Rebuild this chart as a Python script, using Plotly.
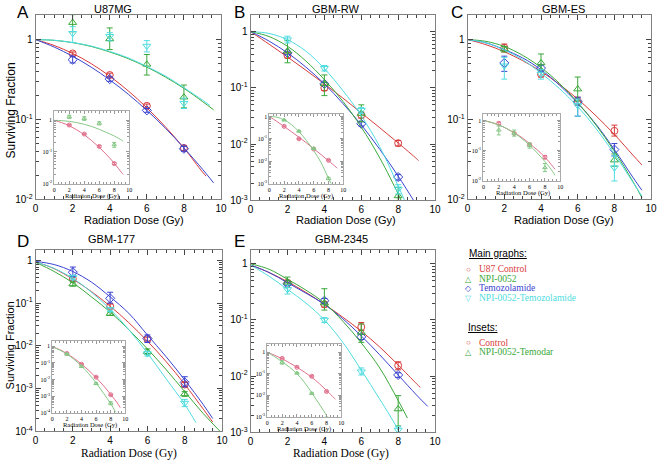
import numpy as np
import plotly.graph_objects as go

W, H = 664, 465
SANS = "Liberation Sans, Arial, sans-serif"
SERIF = "Liberation Serif, Times New Roman, serif"
RED, GREEN, BLUE, CYAN = "#d83c3c", "#3aa83a", "#3a44d0", "#50dce0"
PINK, LGREEN = "#e0708c", "#86c886"

DOSE = [2, 4, 6, 8]

# ---- A: U87MG ----
A_RED = [0.67, 0.36, 0.148, 0.044]
A_RED_HI = [0.70, 0.38, 0.156, 0.047]
A_RED_LO = [0.64, 0.34, 0.140, 0.041]
A_GREEN = [1.63, 1.02, 0.49, 0.19]
A_GREEN_HI = [2.05, 1.40, 0.65, 0.27]
A_GREEN_LO = [1.25, 0.75, 0.36, 0.14]
A_BLUE = [0.56, 0.32, 0.13, 0.043]
A_BLUE_HI = [0.61, 0.34, 0.137, 0.046]
A_BLUE_LO = [0.51, 0.30, 0.123, 0.040]
A_CYAN = [1.2, 1.1, 0.83, 0.16]
A_CYAN_HI = [1.45, 1.22, 0.97, 0.185]
A_CYAN_LO = [0.92, 0.96, 0.70, 0.137]
A_RED_FX = [0, 1, 2, 3, 4, 5, 6, 7, 8, 9, 9.2]
A_RED_FY = [1, 0.845, 0.67, 0.50, 0.348, 0.228, 0.140, 0.081, 0.044, 0.022, 0.0195]
A_BLUE_FX = [0, 1, 2, 3, 4, 5, 6, 7, 8, 9, 9.6]
A_BLUE_FY = [1, 0.807, 0.619, 0.452, 0.313, 0.207, 0.130, 0.078, 0.044, 0.0239, 0.0161]
A_GREEN_FX = [0, 1, 2, 3, 4, 5, 6, 7, 8, 9, 9.6]
A_GREEN_FY = [1, 0.978, 0.916, 0.82, 0.70, 0.577, 0.453, 0.34, 0.245, 0.168, 0.132]
A_CYAN_FX = [0, 1, 2, 3, 4, 5, 6, 7, 8, 9, 9.4]
A_CYAN_FY = [1, 0.98, 0.92, 0.83, 0.71, 0.59, 0.46, 0.35, 0.25, 0.175, 0.15]
IA_CTRL = [0.71, 0.37, 0.15, 0.043]
IA_CTRL_HI = [0.75, 0.39, 0.16, 0.046]
IA_CTRL_LO = [0.67, 0.35, 0.14, 0.040]
IA_NPI = [1.3, 1.15, 0.81, 0.17]
IA_NPI_HI = [1.45, 1.3, 0.9, 0.2]
IA_NPI_LO = [1.15, 1.0, 0.72, 0.14]
IA_NPI_FX = [0, 1, 2, 3, 4, 5, 6, 7, 8, 9, 9.2]
IA_NPI_FY = [1, 0.98, 0.93, 0.85, 0.75, 0.64, 0.52, 0.41, 0.32, 0.235, 0.22]

# ---- B: GBM-RW ----
B_RED = [0.38, 0.10, 0.033, 0.0104]
B_RED_HI = [0.42, 0.11, 0.037, 0.0116]
B_RED_LO = [0.34, 0.09, 0.029, 0.0093]
B_GREEN = [0.45, 0.118, 0.035, 0.0012]
B_GREEN_HI = [0.70, 0.17, 0.05, 0.0017]
B_GREEN_LO = [0.28, 0.073, 0.025, 0.0009]
B_BLUE = [0.42, 0.118, 0.023, 0.0026]
B_BLUE_HI = [0.45, 0.125, 0.025, 0.0029]
B_BLUE_LO = [0.39, 0.11, 0.021, 0.0023]
B_CYAN = [0.72, 0.224, 0.04, 0.0016]
B_CYAN_HI = [0.83, 0.25, 0.045, 0.0019]
B_CYAN_LO = [0.63, 0.20, 0.035, 0.0013]
B_RED_FX = [0, 1, 2, 3, 4, 5, 6, 7, 8, 9, 9.1]
B_RED_FY = [1, 0.60, 0.355, 0.206, 0.118, 0.066, 0.036, 0.0196, 0.0105, 0.0055, 0.0051]
B_BLUE_FX = [0, 1, 2, 3, 4, 5, 6, 7, 8, 9]
B_BLUE_FY = [1, 0.68, 0.42, 0.234, 0.118, 0.053, 0.022, 0.0081, 0.0027, 0.00082]
B_GREEN_FX = [0, 1, 2, 3, 4, 5, 6, 7, 8, 8.2]
B_GREEN_FY = [1, 0.82, 0.55, 0.30, 0.14, 0.058, 0.02, 0.0057, 0.0013, 0.00093]
B_CYAN_FX = [0, 1, 2, 3, 4, 5, 6, 7, 8, 8.35]
B_CYAN_FY = [1, 0.93, 0.72, 0.45, 0.22, 0.09, 0.032, 0.009, 0.0018, 0.00099]
IB_CTRL = [0.36, 0.10, 0.035, 0.011]
IB_CTRL_HI = [0.38, 0.105, 0.037, 0.0117]
IB_CTRL_LO = [0.34, 0.095, 0.033, 0.0103]
IB_NPI = [0.69, 0.22, 0.037, 0.0017]
IB_NPI_HI = [0.73, 0.235, 0.040, 0.0019]
IB_NPI_LO = [0.65, 0.205, 0.034, 0.0015]
IB_CTRL_FX = [0, 1, 2, 3, 4, 5, 6, 7, 8, 9, 9.2]
IB_CTRL_FY = [1, 0.60, 0.355, 0.206, 0.118, 0.066, 0.036, 0.0196, 0.0105, 0.0055, 0.0049]
IB_NPI_FX = [0, 1, 2, 3, 4, 5, 6, 7, 8, 8.4]
IB_NPI_FY = [1, 0.93, 0.70, 0.43, 0.21, 0.085, 0.03, 0.0085, 0.0017, 0.00095]

# ---- C: GBM-ES ----
C_RED = [0.79, 0.37, 0.17, 0.072]
C_RED_HI = [0.88, 0.40, 0.19, 0.085]
C_RED_LO = [0.70, 0.34, 0.15, 0.062]
C_GREEN = [0.76, 0.51, 0.24, 0.031]
C_GREEN_HI = [0.82, 0.66, 0.34, 0.037]
C_GREEN_LO = [0.70, 0.42, 0.17, 0.026]
C_BLUE = [0.51, 0.44, 0.166, 0.042]
C_BLUE_HI = [0.62, 0.48, 0.19, 0.05]
C_BLUE_LO = [0.40, 0.40, 0.11, 0.035]
C_CYAN = [0.47, 0.37, 0.15, 0.025]
C_CYAN_HI = [0.60, 0.42, 0.18, 0.035]
C_CYAN_LO = [0.32, 0.32, 0.11, 0.017]
C_RED_FX = [0, 1, 2, 3, 4, 5, 6, 7, 8, 9, 9.5]
C_RED_FY = [1, 0.863, 0.705, 0.545, 0.40, 0.275, 0.18, 0.111, 0.065, 0.036, 0.027]
C_BLUE_FX = [0, 1, 2, 3, 4, 5, 6, 7, 8, 9, 9.5]
C_BLUE_FY = [1, 0.91, 0.75, 0.59, 0.42, 0.27, 0.16, 0.087, 0.042, 0.019, 0.013]
C_GREEN_FX = [0, 1, 2, 3, 4, 5, 6, 7, 8, 9, 9.5]
C_GREEN_FY = [1, 0.95, 0.82, 0.635, 0.447, 0.284, 0.163, 0.085, 0.04, 0.0169, 0.0105]
C_CYAN_FX = [0, 1, 2, 3, 4, 5, 6, 7, 8, 9, 9.5]
C_CYAN_FY = [1, 0.91, 0.74, 0.56, 0.38, 0.245, 0.145, 0.077, 0.037, 0.0165, 0.011]
IC_CTRL = [0.8, 0.37, 0.155, 0.06]
IC_CTRL_HI = [0.88, 0.40, 0.17, 0.068]
IC_CTRL_LO = [0.72, 0.34, 0.14, 0.053]
IC_NPI = [0.48, 0.37, 0.15, 0.027]
IC_NPI_HI = [0.65, 0.48, 0.18, 0.037]
IC_NPI_LO = [0.33, 0.30, 0.12, 0.020]
IC_CTRL_FX = [0, 1, 2, 3, 4, 5, 6, 7, 8, 9, 9.3]
IC_CTRL_FY = [1, 0.86, 0.71, 0.54, 0.39, 0.27, 0.17, 0.105, 0.06, 0.03, 0.024]
IC_NPI_FX = [0, 1, 2, 3, 4, 5, 6, 7, 8, 9, 9.3]
IC_NPI_FY = [1, 0.86, 0.71, 0.54, 0.38, 0.25, 0.15, 0.083, 0.043, 0.02, 0.015]

# ---- D: GBM-177 ----
D_RED = [0.37, 0.085, 0.0144, 0.00125]
D_RED_HI = [0.40, 0.095, 0.016, 0.0014]
D_RED_LO = [0.34, 0.077, 0.013, 0.0011]
D_GREEN = [0.28, 0.057, 0.0073, 0.00075]
D_GREEN_HI = [0.31, 0.062, 0.0085, 0.00085]
D_GREEN_LO = [0.25, 0.052, 0.0063, 0.00066]
D_BLUE = [0.53, 0.13, 0.015, 0.0014]
D_BLUE_HI = [0.70, 0.18, 0.018, 0.0019]
D_BLUE_LO = [0.42, 0.10, 0.012, 0.0011]
D_CYAN = [0.40, 0.071, 0.0066, 0.00046]
D_CYAN_HI = [0.45, 0.078, 0.0075, 0.00056]
D_CYAN_LO = [0.35, 0.064, 0.0058, 0.00038]
D_RED_FX = [0, 1, 2, 3, 4, 5, 6, 7, 8, 9, 9.5]
D_RED_FY = [0.93, 0.64, 0.365, 0.186, 0.085, 0.035, 0.0129, 0.0043, 0.00126, 0.00033, 0.000165]
D_BLUE_FX = [0, 1, 2, 3, 4, 5, 6, 7, 8, 9, 9.5]
D_BLUE_FY = [0.95, 0.8, 0.55, 0.31, 0.14, 0.058, 0.018, 0.0056, 0.0016, 0.00042, 0.0002]
D_GREEN_FX = [0, 1, 2, 3, 4, 5, 6, 7, 8, 9, 9.9]
D_GREEN_FY = [0.9, 0.55, 0.30, 0.14, 0.062, 0.024, 0.0085, 0.0028, 0.00085, 0.00026, 0.0001]
D_CYAN_FX = [0, 1, 2, 3, 4, 5, 6, 7, 8, 8.6]
D_CYAN_FY = [0.92, 0.65, 0.38, 0.18, 0.072, 0.024, 0.0068, 0.0017, 0.00043, 0.00016]
ID_CTRL = [0.37, 0.083, 0.0138, 0.0012]
ID_CTRL_HI = [0.40, 0.09, 0.015, 0.0013]
ID_CTRL_LO = [0.34, 0.076, 0.0127, 0.0011]
ID_NPI = [0.34, 0.06, 0.0056, 0.00037]
ID_NPI_HI = [0.37, 0.066, 0.0063, 0.00045]
ID_NPI_LO = [0.31, 0.054, 0.005, 0.0003]
ID_CTRL_FX = [0, 1, 2, 3, 4, 5, 6, 7, 8, 9, 9.3]
ID_CTRL_FY = [0.93, 0.64, 0.365, 0.186, 0.085, 0.035, 0.0129, 0.0043, 0.00126, 0.00033, 0.0002]
ID_NPI_FX = [0, 1, 2, 3, 4, 5, 6, 7, 8, 8.7]
ID_NPI_FY = [0.93, 0.6, 0.34, 0.16, 0.065, 0.022, 0.0062, 0.0015, 0.00035, 0.0001]

# ---- E: GBM-2345 ----
E_RED = [0.46, 0.19, 0.075, 0.0155]
E_RED_HI = [0.50, 0.21, 0.09, 0.018]
E_RED_LO = [0.42, 0.17, 0.065, 0.013]
E_GREEN = [0.47, 0.20, 0.06, 0.0026]
E_GREEN_HI = [0.58, 0.36, 0.085, 0.0045]
E_GREEN_LO = [0.38, 0.15, 0.04, 0.0013]
E_BLUE = [0.44, 0.22, 0.05, 0.0105]
E_BLUE_HI = [0.47, 0.24, 0.055, 0.0115]
E_BLUE_LO = [0.41, 0.20, 0.045, 0.0095]
E_CYAN = [0.35, 0.10, 0.012, 0.0011]
E_CYAN_HI = [0.42, 0.11, 0.014, 0.00125]
E_CYAN_LO = [0.29, 0.09, 0.0105, 0.00095]
E_RED_FX = [0, 1, 2, 3, 4, 5, 6, 7, 8, 9, 9.2]
E_RED_FY = [0.95, 0.70, 0.48, 0.31, 0.19, 0.112, 0.063, 0.033, 0.0158, 0.0073, 0.0063]
E_BLUE_FX = [0, 1, 2, 3, 4, 5, 6, 7, 8, 9, 9.6]
E_BLUE_FY = [0.95, 0.70, 0.46, 0.30, 0.19, 0.105, 0.052, 0.024, 0.0105, 0.0046, 0.0029]
E_GREEN_FX = [0, 1, 2, 3, 4, 5, 6, 7, 8, 8.5]
E_GREEN_FY = [1.0, 0.80, 0.53, 0.34, 0.20, 0.095, 0.039, 0.014, 0.0037, 0.0018]
E_CYAN_FX = [0, 1, 2, 3, 4, 5, 6, 7, 8, 8.1]
E_CYAN_FY = [0.95, 0.60, 0.35, 0.20, 0.10, 0.040, 0.0128, 0.0039, 0.0011, 0.00088]
IE_CTRL = [0.52, 0.2, 0.076, 0.0148]
IE_CTRL_HI = [0.55, 0.21, 0.081, 0.0158]
IE_CTRL_LO = [0.49, 0.19, 0.071, 0.0138]
IE_NPI = [0.34, 0.107, 0.012, 0.00087]
IE_NPI_HI = [0.40, 0.115, 0.013, 0.00095]
IE_NPI_LO = [0.28, 0.099, 0.011, 0.0008]
IE_CTRL_FX = [0, 1, 2, 3, 4, 5, 6, 7, 8, 9, 9.2]
IE_CTRL_FY = [1, 0.72, 0.50, 0.32, 0.20, 0.12, 0.068, 0.035, 0.0165, 0.0075, 0.0065]
IE_NPI_FX = [0, 1, 2, 3, 4, 5, 6, 7, 8, 8.1]
IE_NPI_FY = [1, 0.62, 0.36, 0.20, 0.10, 0.040, 0.0128, 0.0039, 0.0011, 0.00088]

X_TICKS = [0, 2, 4, 6, 8, 10]
Y_TICKVALS = [1e-4, 1e-3, 1e-2, 1e-1, 1]
Y_TICKTEXT = ["10<sup>-4</sup>", "10<sup>-3</sup>", "10<sup>-2</sup>", "10<sup>-1</sup>", "1"]
Y_MINOR = [m * 10.0 ** e for e in range(-4, 1) for m in range(2, 10)]

# (axis id, x px span, y px span, log y range)
MAIN = [
    (1, (33, 221), (15, 202), [-2, 0.31]),
    (2, (251, 438), (15, 203), [-3, 0.30]),
    (3, (471, 657), (15, 202), [-2, 0.31]),
    (4, (33, 222), (253, 437), [-4, 0.25]),
    (5, (251, 438), (253, 438), [-3, 0.25]),
]
INSETS = [
    (6, (52, 128), (112, 186), [-2, 0.31]),
    (7, (270, 345), (115, 186), [-3, 0.13]),
    (8, (487, 565), (115, 183), [-2, 0.23]),
    (9, (50, 124), (345, 418), [-4, 0.35]),
    (10, (268, 343), (348, 422), [-3, 0.41]),
]

MAIN_SERIES = {
    1: [(A_RED, A_RED_HI, A_RED_LO, A_RED_FX, A_RED_FY, RED, "circle-open"),
        (A_BLUE, A_BLUE_HI, A_BLUE_LO, A_BLUE_FX, A_BLUE_FY, BLUE, "diamond-open"),
        (A_GREEN, A_GREEN_HI, A_GREEN_LO, A_GREEN_FX, A_GREEN_FY, GREEN, "triangle-up-open"),
        (A_CYAN, A_CYAN_HI, A_CYAN_LO, A_CYAN_FX, A_CYAN_FY, CYAN, "triangle-down-open")],
    2: [(B_RED, B_RED_HI, B_RED_LO, B_RED_FX, B_RED_FY, RED, "circle-open"),
        (B_BLUE, B_BLUE_HI, B_BLUE_LO, B_BLUE_FX, B_BLUE_FY, BLUE, "diamond-open"),
        (B_GREEN, B_GREEN_HI, B_GREEN_LO, B_GREEN_FX, B_GREEN_FY, GREEN, "triangle-up-open"),
        (B_CYAN, B_CYAN_HI, B_CYAN_LO, B_CYAN_FX, B_CYAN_FY, CYAN, "triangle-down-open")],
    3: [(C_RED, C_RED_HI, C_RED_LO, C_RED_FX, C_RED_FY, RED, "circle-open"),
        (C_BLUE, C_BLUE_HI, C_BLUE_LO, C_BLUE_FX, C_BLUE_FY, BLUE, "diamond-open"),
        (C_GREEN, C_GREEN_HI, C_GREEN_LO, C_GREEN_FX, C_GREEN_FY, GREEN, "triangle-up-open"),
        (C_CYAN, C_CYAN_HI, C_CYAN_LO, C_CYAN_FX, C_CYAN_FY, CYAN, "triangle-down-open")],
    4: [(D_RED, D_RED_HI, D_RED_LO, D_RED_FX, D_RED_FY, RED, "circle-open"),
        (D_BLUE, D_BLUE_HI, D_BLUE_LO, D_BLUE_FX, D_BLUE_FY, BLUE, "diamond-open"),
        (D_GREEN, D_GREEN_HI, D_GREEN_LO, D_GREEN_FX, D_GREEN_FY, GREEN, "triangle-up-open"),
        (D_CYAN, D_CYAN_HI, D_CYAN_LO, D_CYAN_FX, D_CYAN_FY, CYAN, "triangle-down-open")],
    5: [(E_RED, E_RED_HI, E_RED_LO, E_RED_FX, E_RED_FY, RED, "circle-open"),
        (E_BLUE, E_BLUE_HI, E_BLUE_LO, E_BLUE_FX, E_BLUE_FY, BLUE, "diamond-open"),
        (E_GREEN, E_GREEN_HI, E_GREEN_LO, E_GREEN_FX, E_GREEN_FY, GREEN, "triangle-up-open"),
        (E_CYAN, E_CYAN_HI, E_CYAN_LO, E_CYAN_FX, E_CYAN_FY, CYAN, "triangle-down-open")],
}
INSET_SERIES = {
    6: [(IA_CTRL, IA_CTRL_HI, IA_CTRL_LO, A_RED_FX, A_RED_FY, PINK, "circle-open"),
        (IA_NPI, IA_NPI_HI, IA_NPI_LO, IA_NPI_FX, IA_NPI_FY, LGREEN, "triangle-up-open")],
    7: [(IB_CTRL, IB_CTRL_HI, IB_CTRL_LO, IB_CTRL_FX, IB_CTRL_FY, PINK, "circle-open"),
        (IB_NPI, IB_NPI_HI, IB_NPI_LO, IB_NPI_FX, IB_NPI_FY, LGREEN, "triangle-up-open")],
    8: [(IC_CTRL, IC_CTRL_HI, IC_CTRL_LO, IC_CTRL_FX, IC_CTRL_FY, PINK, "circle-open"),
        (IC_NPI, IC_NPI_HI, IC_NPI_LO, IC_NPI_FX, IC_NPI_FY, LGREEN, "triangle-up-open")],
    9: [(ID_CTRL, ID_CTRL_HI, ID_CTRL_LO, ID_CTRL_FX, ID_CTRL_FY, PINK, "circle-open"),
        (ID_NPI, ID_NPI_HI, ID_NPI_LO, ID_NPI_FX, ID_NPI_FY, LGREEN, "triangle-up-open")],
    10: [(IE_CTRL, IE_CTRL_HI, IE_CTRL_LO, IE_CTRL_FX, IE_CTRL_FY, PINK, "circle-open"),
         (IE_NPI, IE_NPI_HI, IE_NPI_LO, IE_NPI_FX, IE_NPI_FY, LGREEN, "triangle-up-open")],
}


def px(x):
    return x / W


def py(y):
    return 1 - y / H


def axis_names(i):
    return ("x" if i == 1 else f"x{i}", "y" if i == 1 else f"y{i}")


def add_series(fig, i, series, msize, lw, ebw):
    xa, ya = axis_names(i)
    for y, hi, lo, fx, fy, color, symbol in series:
        fig.add_trace(go.Scatter(
            x=fx, y=fy, mode="lines", xaxis=xa, yaxis=ya, hoverinfo="skip",
            line=dict(color=color, width=lw, shape="spline", smoothing=1.0)))
        y, hi, lo = np.array(y), np.array(hi), np.array(lo)
        fig.add_trace(go.Scatter(
            x=DOSE, y=y, mode="markers", xaxis=xa, yaxis=ya,
            marker=dict(symbol=symbol, size=msize, color=color, line=dict(width=1, color=color)),
            error_y=dict(type="data", symmetric=False, array=hi - y, arrayminus=y - lo,
                         color=color, thickness=1, width=ebw)))


def set_axes(fig, i, xs, ys, yr, inset):
    xkey = "xaxis" if i == 1 else f"xaxis{i}"
    ykey = "yaxis" if i == 1 else f"yaxis{i}"
    xa, ya = axis_names(i)
    lc = "#aaaaaa" if inset else "#808080"
    tc = "#999999" if inset else "#444444"
    fs = 6 if inset else 10
    fam = SERIF if inset else SANS
    common = dict(showline=True, linecolor=lc, linewidth=1, mirror="ticks", ticks="inside",
                  tickcolor=tc, ticklen=3 if inset else 5, showgrid=False, zeroline=False,
                  tickfont=dict(size=fs, family=fam, color="black"))
    fig.layout[xkey] = dict(
        common, domain=[px(xs[0]), px(xs[1])], anchor=ya, range=[0, 10],
        tickvals=X_TICKS, ticktext=[str(v) for v in X_TICKS],
        minor=dict(dtick=0.5, tick0=0, ticks="inside", ticklen=2 if inset else 3, tickcolor=tc))
    fig.layout[ykey] = dict(
        common, domain=[py(ys[1]), py(ys[0])], anchor=xa, type="log", range=yr,
        tickvals=Y_TICKVALS, ticktext=Y_TICKTEXT,
        minor=dict(tickvals=Y_MINOR, ticks="inside", ticklen=2 if inset else 3, tickcolor=tc))


fig = go.Figure()
for i, xs, ys, yr in MAIN:
    set_axes(fig, i, xs, ys, yr, False)
    add_series(fig, i, MAIN_SERIES[i], 7, 1, 3)
for i, xs, ys, yr in INSETS:
    set_axes(fig, i, xs, ys, yr, True)
    add_series(fig, i, INSET_SERIES[i], 4, 1, 2)

annotations = []


def text(x, y, s, size, family=SANS, color="black", anchor="center", angle=0):
    annotations.append(dict(x=px(x), y=py(y), xref="paper", yref="paper", text=s, showarrow=False,
                            xanchor=anchor, yanchor="middle", textangle=angle,
                            font=dict(size=size, family=family, color=color)))


for letter, x, y in [("A", 20, 13), ("B", 240, 13), ("C", 460, 13), ("D", 20, 245), ("E", 240, 245)]:
    text(x, y, letter, 17)
for title, x, y in [("U87MG", 112, 9), ("GBM-RW", 337, 9), ("GBM-ES", 568, 9),
                    ("GBM-177", 110, 242), ("GBM-2345", 343, 242)]:
    text(x, y, title, 11)
text(8, 112, "Surviving Fraction", 12, angle=-90)
text(8, 350, "Surviving Fraction", 11, angle=-90)
for x in [133, 348, 569]:
    text(x, 223, "Radiation Dose (Gy)", 11)
for x in [128, 343]:
    text(x, 459, "Radiation Dose (Gy)", 11.5, family=SERIF)
for x, y in [(90, 199), (307, 199), (527, 196), (88, 431), (305, 435)]:
    text(x, y, "Radiation Dose (Gy)", 6.5, family=SERIF)

# legend block
text(470, 257, "<u>Main graphs:</u>", 10, anchor="left")
for y, sym, label, color in [(273, "○", "U87 Control", RED), (283, "△", "NPI-0052", GREEN),
                             (292, "◇", "Temozolamide", BLUE),
                             (302, "▽", "NPI-0052-Temozolamide", CYAN)]:
    text(472, y, sym, 8, color=color)
    text(481, y, label, 9.5, family=SERIF, color=color, anchor="left")
text(469, 332, "<u>Insets:</u>", 10, anchor="left")
for y, sym, label, color in [(347, "○", "Control", RED), (357, "△", "NPI-0052-Temodar", GREEN)]:
    text(472, y, sym, 8, color=color)
    text(481, y, label, 9.5, family=SERIF, color=color, anchor="left")

fig.update_layout(width=W, height=H, margin=dict(l=0, r=0, t=0, b=0),
                  paper_bgcolor="white", plot_bgcolor="white", showlegend=False,
                  annotations=annotations)
fig.write_html("out.html", config={"displayModeBar": False},
               post_script="document.body.style.margin='0';")
